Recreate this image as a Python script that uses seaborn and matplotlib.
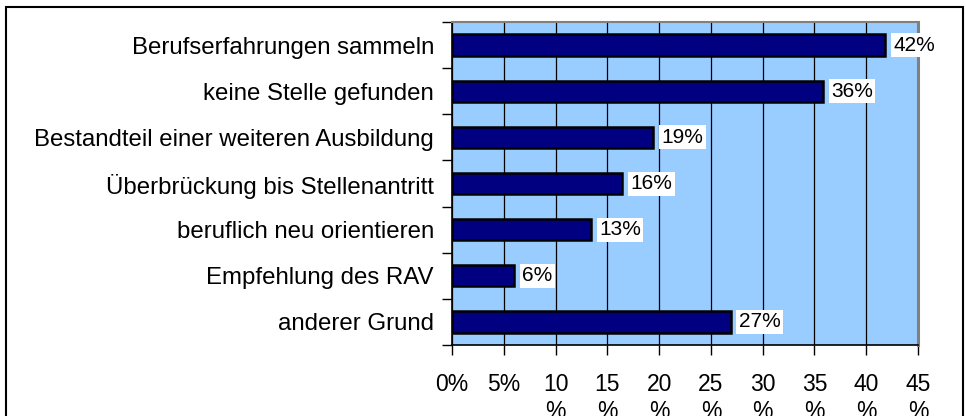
import numpy as np
import pandas as pd
import matplotlib
matplotlib.use("Agg")
import matplotlib.pyplot as plt
from matplotlib.patches import Rectangle
import seaborn as sns

# Daten
gruende = [
    "Berufserfahrungen sammeln",
    "keine Stelle gefunden",
    "Bestandteil einer weiteren Ausbildung",
    "Überbrückung bis Stellenantritt",
    "beruflich neu orientieren",
    "Empfehlung des RAV",
    "anderer Grund",
]
anteile = [41.8, 35.8, 19.4, 16.4, 13.4, 6.0, 26.9]
x_ticks = [0, 5, 10, 15, 20, 25, 30, 35, 40, 45]
x_labels = ["0%", "5%", "10\n%", "15\n%", "20\n%", "25\n%", "30\n%", "35\n%", "40\n%", "45\n%"]

df = pd.DataFrame({"grund": gruende, "anteil": anteile})

plt.rcParams["font.family"] = ["Liberation Sans", "DejaVu Sans"]

fig = plt.figure(figsize=(9.66, 4.16), dpi=100)
ax = fig.add_axes([452 / 966, 1 - 345 / 416, (918 - 452) / 966, (345 - 22) / 416])
ax.set_facecolor("#99CCFF")

sns.barplot(data=df, x="anteil", y="grund", color="#000080", saturation=1,
            edgecolor="black", linewidth=1.8, width=0.46, ax=ax, zorder=3)

# Beschriftung der Balken
for i, v in enumerate(anteile):
    ax.annotate(f"{round(v)}%", xy=(v, i), xytext=(6, 0), textcoords="offset points",
                va="center", ha="left", fontsize=15,
                bbox=dict(boxstyle="square,pad=0.12", fc="white", ec="none"),
                annotation_clip=False, zorder=5)

ax.set_xlim(0, 45)
ax.set_ylim(6.5, -0.5)
ax.set_xticks(x_ticks)
ax.set_xticklabels(x_labels, fontsize=16.5, linespacing=1.25)
ax.tick_params(axis="x", length=7, width=1, pad=13, direction="out")
ax.tick_params(axis="y", which="major", length=0, pad=13, labelsize=17.3)
ax.set_yticks(np.arange(-0.5, 7, 1), minor=True)
ax.tick_params(axis="y", which="minor", length=7, width=1, direction="out")
ax.set_xlabel("")
ax.set_ylabel("")

ax.grid(axis="x", color="black", linewidth=0.9, zorder=1)
ax.set_axisbelow(True)
for s in ["left", "bottom"]:
    ax.spines[s].set_color("black")
    ax.spines[s].set_linewidth(1.2)
ax.spines["top"].set_color("#808080")
ax.spines["top"].set_linewidth(1.5)
ax.spines["right"].set_color("#808080")
ax.spines["right"].set_linewidth(2.2)

# Rahmen um das Diagramm
fig.add_artist(Rectangle((6 / 966, -0.2), (963 - 6) / 966, 1.2 - 7 / 416,
                         transform=fig.transFigure, fill=False, ec="black",
                         lw=1.5, clip_on=False))

fig.savefig("out.png", dpi=100)
